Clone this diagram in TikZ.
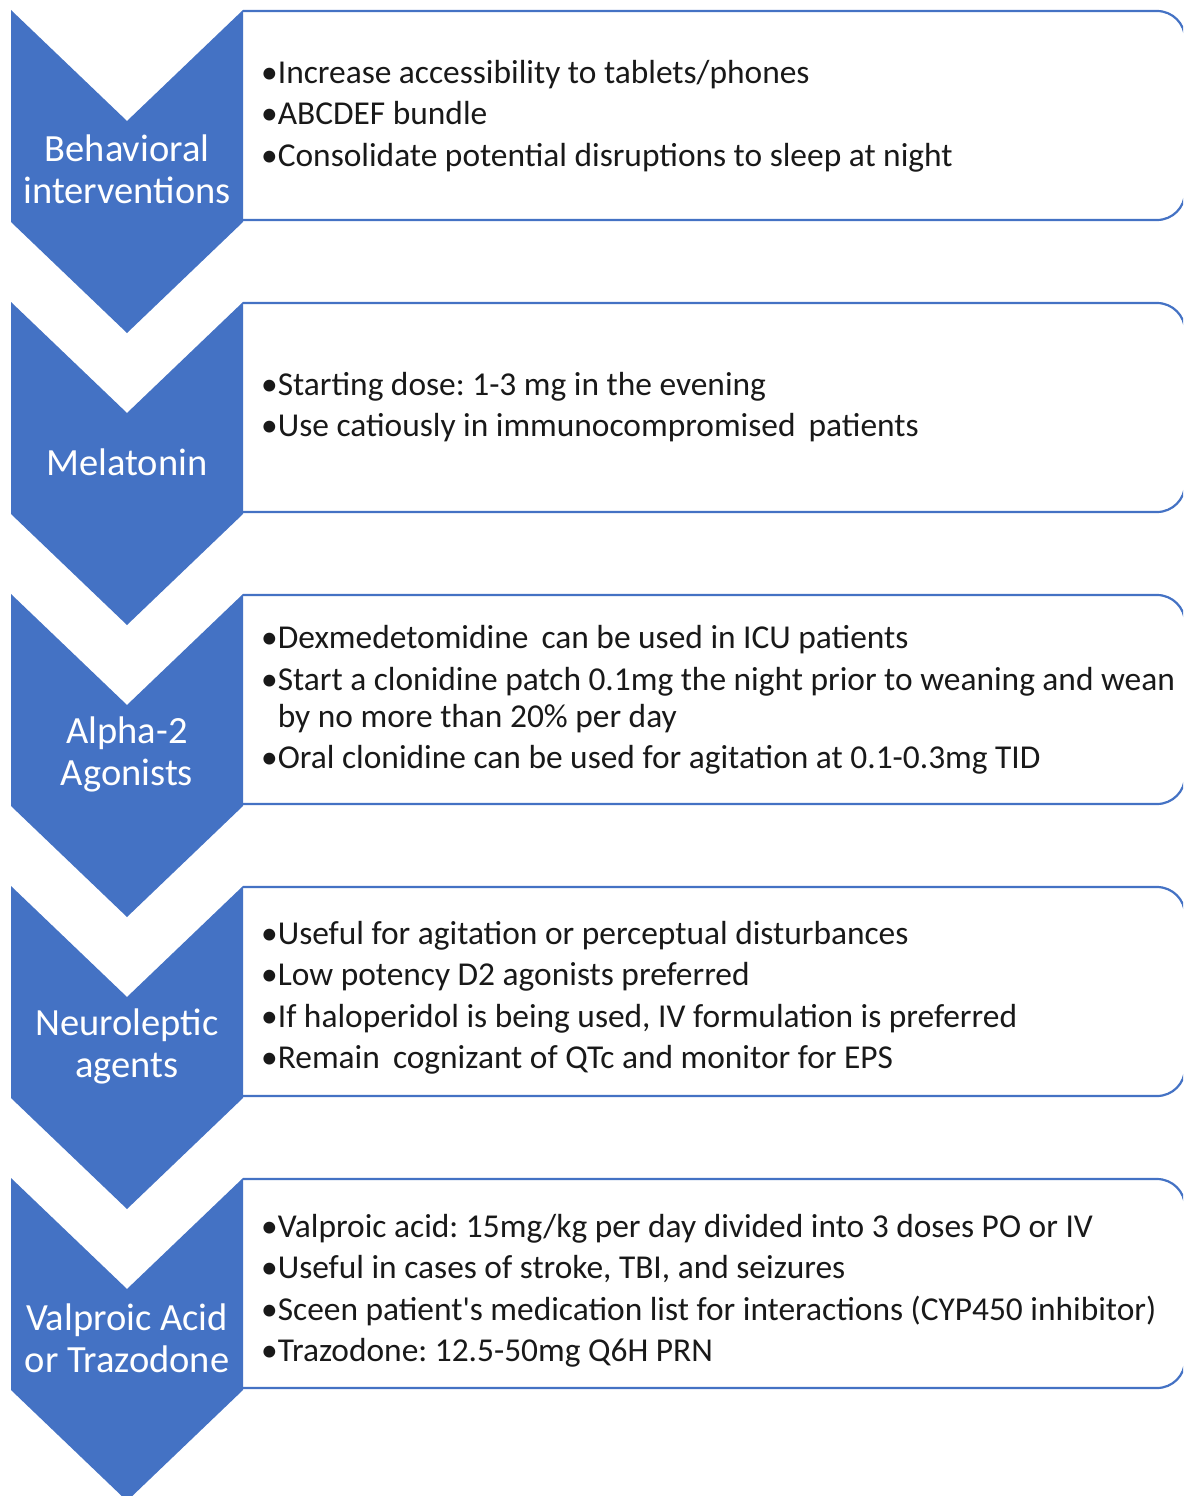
\documentclass[tikz,border=0pt]{standalone}
\usepackage{fontspec}
\setmainfont{Carlito}[Ligatures=TeXOff]
\frenchspacing
\definecolor{offblue}{HTML}{4472C4}
\tikzset{
  chev/.style={fill=offblue, draw=none},
  infobox/.style={draw=offblue, line width=2.2pt, fill=white},
  chevlabel/.style={text=white, align=center, font=\fontsize{38.5}{42}\selectfont, inner sep=0pt},
  boxtext/.style={text=black!90, align=left, anchor=west, font=\fontsize{33.4}{37}\selectfont, inner sep=0pt}
}
\newcommand{\bl}{•}
\newcommand{\hang}{\phantom{•}}
\begin{document}
\begin{tikzpicture}[x=1pt,y=-1pt]
\useasboundingbox (0,0) rectangle (1183,1496);
\clip (0,0) rectangle (1183,1496);
\foreach \t/\n in {10/1,302/2,594/3,886/4,1178/5}{
  \draw[infobox] (243,\t+1) [rounded corners=28pt] -- (1185,\t+1) -- (1185,\t+210) [sharp corners] -- (243,\t+210);
  \fill[chev] (11,\t) -- (127,\t+111) -- (243,\t) -- (243,\t+212) -- (127,\t+323) -- (11,\t+212) -- cycle;
}
\node[chevlabel] (c1) at (127,169) {Behavioral\\interventions};
\node[chevlabel] (c2) at (127,462) {Melatonin};
\node[chevlabel] (c3) at (127,754) {Alpha-2\\Agonists};
\node[chevlabel] (c4) at (127,1046) {Neuroleptic\\agents};
\node[chevlabel] (c5) at (127,1338) {Valproic Acid\\or Trazodone};

\node[boxtext] (t1) at (261,116) {\bl Increase accessibility to tablets/phones\\[4.5pt]\bl ABCDEF bundle\\[4.5pt]\bl Consolidate potential disruptions to sleep at night};
\node[boxtext] (t2) at (261,407) {\bl Starting dose: 1-3 mg in the evening\\[4.5pt]\bl Use catiously in immunocompromised\ \,patients};
\node[boxtext] (t3) at (261,700) {\bl Dexmedetomidine\ \,can be used in ICU patients\\[4.5pt]\bl Start a clonidine patch 0.1mg the night prior to weaning and wean\\\hang by no more than 20\% per day\\[4.5pt]\bl Oral clonidine can be used for agitation at 0.1-0.3mg TID};
\node[boxtext] (t4) at (261,998) {\bl Useful for agitation or perceptual disturbances\\[4.5pt]\bl Low potency D2 agonists preferred\\[4.5pt]\bl If haloperidol is being used, IV formulation is preferred\\[4.5pt]\bl Remain\ \,cognizant of QTc and monitor for EPS};
\node[boxtext] (t5) at (261,1291) {\bl Valproic acid: 15mg/kg per day divided into 3 doses PO or IV\\[4.5pt]\bl Useful in cases of stroke, TBI, and seizures\\[4.5pt]\bl Sceen patient's medication list for interactions (CYP450 inhibitor)\\[4.5pt]\bl Trazodone: 12.5-50mg Q6H PRN};
\end{tikzpicture}
\end{document}
